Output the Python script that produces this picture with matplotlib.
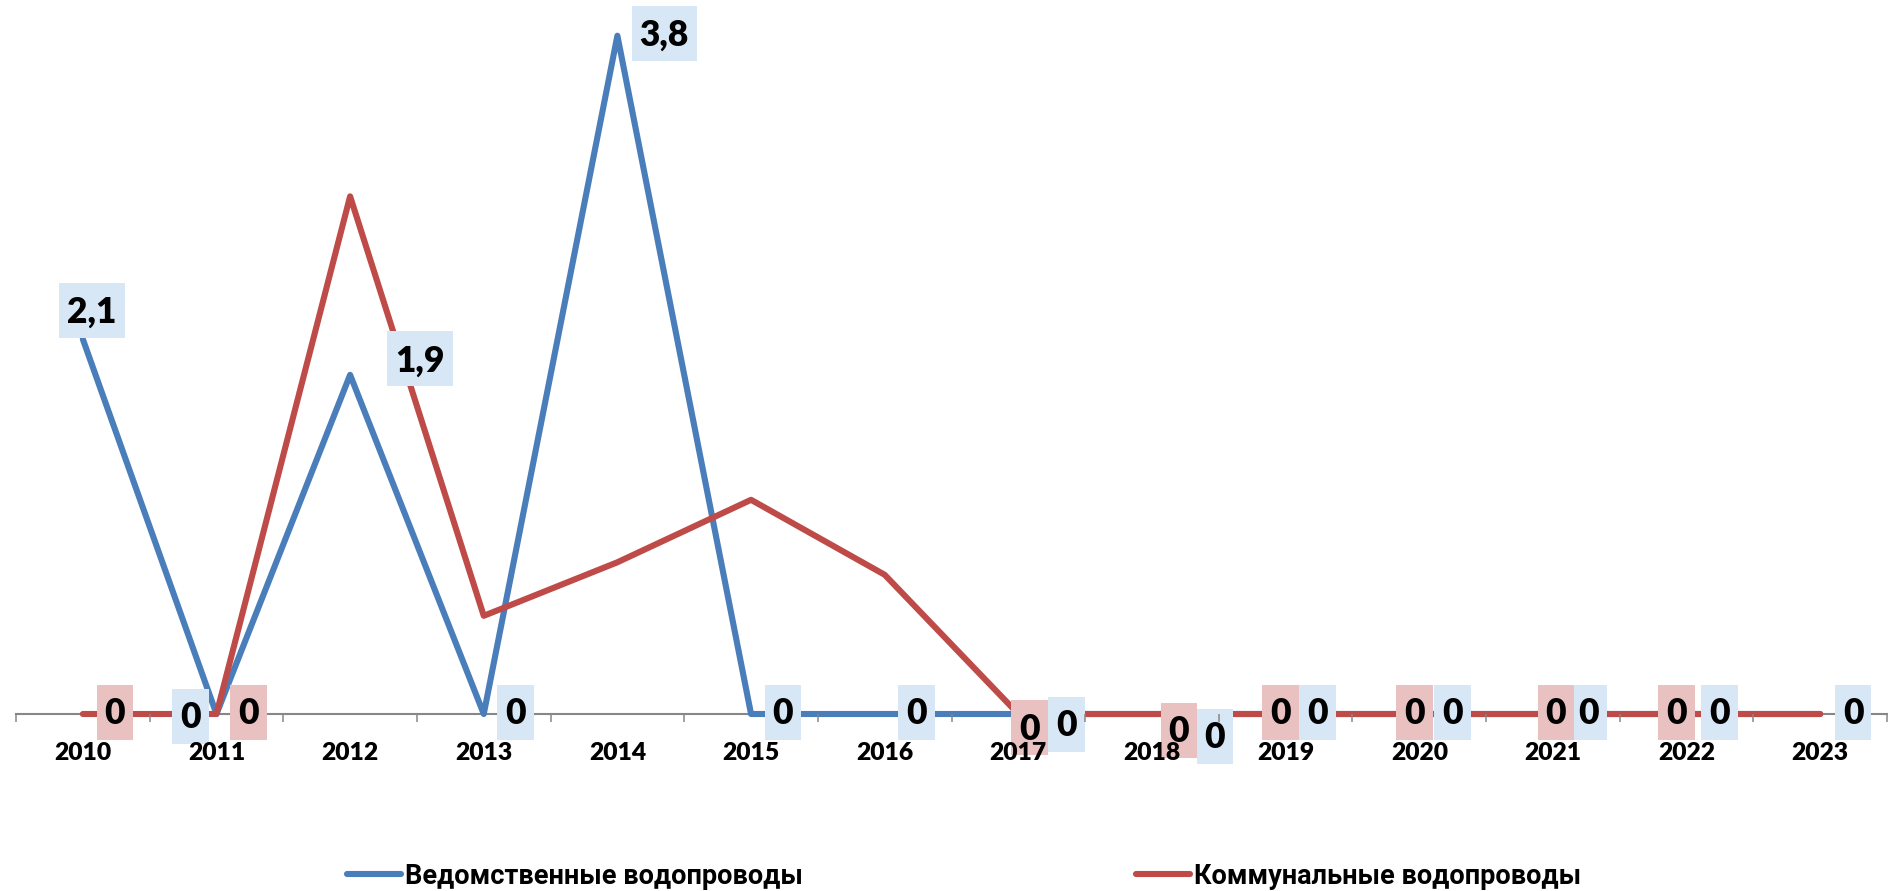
import matplotlib
matplotlib.use("Agg")
import matplotlib.pyplot as plt
from matplotlib.path import Path
from matplotlib.font_manager import FontProperties
import numpy as np

# ---------------- data ----------------
years = ["2010", "2011", "2012", "2013", "2014", "2015", "2016",
         "2017", "2018", "2019", "2020", "2021", "2022", "2023"]
vedomstv = [2.1, 0, 1.9, 0, 3.8, 0, 0, 0, 0, 0, 0, 0, 0, 0]
kommun = [0, 0, 2.9, 0.55, 0.85, 1.2, 0.78, 0, 0, 0, 0, 0, 0, 0]
series_names = ["Ведомственные водопроводы", "Коммунальные водопроводы"]
# which data labels are displayed
vedomstv_label_shown = [True] * 14
kommun_label_shown = [True, True, False, False, False, False, False,
                      True, True, True, True, True, True, False]

# ---------------- style / layout ----------------
W, H, DPI = 1888, 891, 100
BLUE, RED = "#4A7EBB", "#BE4B48"
BLUE_BOX, RED_BOX = "#D8E7F6", "#E9C1C1"
AXIS_GRAY = "#878787"
DIGIT_FONT = ["Lato", "DejaVu Sans"]
DIGIT_WEIGHT = "heavy"

# label offsets (pixels) from their point
ved_off = [(9, 27), (-26, -4), (70, 14), (32, 0), (47, 0), (32, 0), (32, 0),
           (48, -12), (63, -24), (32, 0), (33, 0), (36, 0), (33, 0), (33, 0)]
kom_off = [(32, 0), (32, 0), (0, 0), (0, 0), (0, 0), (0, 0), (0, 0),
           (11, -15), (27, -18), (-5, 0), (-5, 0), (3, 0), (-10, 0), (0, 0)]

fig = plt.figure(figsize=(W / DPI, H / DPI), dpi=DPI)
ax = fig.add_axes([16 / W, (H - 714) / H, (1887 - 16) / W, 714 / H])

x = np.arange(len(years)) + 0.5
l1, = ax.plot(x, vedomstv, color=BLUE, lw=4.4, solid_capstyle="round",
              solid_joinstyle="round", clip_on=False, zorder=3)
l2, = ax.plot(x, kommun, color=RED, lw=4.4, solid_capstyle="round",
              solid_joinstyle="round", clip_on=False, zorder=4)

ax.set_xlim(0, len(years))
ax.set_ylim(0, 4)
for s in ("top", "left", "right"):
    ax.spines[s].set_visible(False)
ax.spines["bottom"].set_color(AXIS_GRAY)
ax.spines["bottom"].set_linewidth(1.5)
ax.set_yticks([])
ax.set_xticks(np.arange(len(years) + 1))
ax.set_xticklabels([])
ax.tick_params(axis="x", which="major", length=5.8, width=1.1,
               color=AXIS_GRAY, direction="out")
ax.set_xticks(x, minor=True)
ax.set_xticklabels(years, minor=True)
ax.tick_params(axis="x", which="minor", length=0, pad=20.5)
for t in ax.get_xticklabels(minor=True):
    t.set_fontfamily(DIGIT_FONT)
    t.set_fontweight(DIGIT_WEIGHT)
    t.set_fontsize(17.7)
    t.set_color("black")
ax.xaxis.set_zorder(7)

BOX_H = 55
PAD_X = 8


def fixed_box(x0, y0, width, height, mutation_size):
    cx = x0 + width / 2.0
    cy = y0 + height / 2.0 + 2
    hw = width / 2.0 + PAD_X
    hh = BOX_H / 2.0
    return Path([(cx - hw, cy - hh), (cx + hw, cy - hh), (cx + hw, cy + hh),
                 (cx - hw, cy + hh), (cx - hw, cy - hh)], closed=True)


def fmt(v):
    return ("%g" % v).replace(".", ",")


def add_labels(vals, shown, offs, boxcol):
    for xi, v, sh, (dx, dy) in zip(x, vals, shown, offs):
        if not sh:
            continue
        ax.annotate(fmt(v), xy=(xi, v), xytext=(dx, dy),
                    textcoords="offset pixels", ha="center", va="center",
                    fontsize=25.5, fontweight=DIGIT_WEIGHT, family=DIGIT_FONT,
                    color="black", zorder=6, annotation_clip=False,
                    bbox=dict(boxstyle=fixed_box, fc=boxcol, ec="none"))


add_labels(vedomstv, vedomstv_label_shown, ved_off, BLUE_BOX)
add_labels(kommun, kommun_label_shown, kom_off, RED_BOX)

fig.legend(handles=[l1, l2], labels=series_names, loc="center",
           bbox_to_anchor=(964 / W, 1 - 876 / H), ncol=2, frameon=False,
           handlelength=2.0, handletextpad=0.15, columnspacing=12.3,
           borderpad=0, borderaxespad=0,
           prop=FontProperties(family=["Roboto", "DejaVu Sans"],
                               weight="bold", size=19.5))

fig.savefig("out.png", dpi=DPI, facecolor="white")
